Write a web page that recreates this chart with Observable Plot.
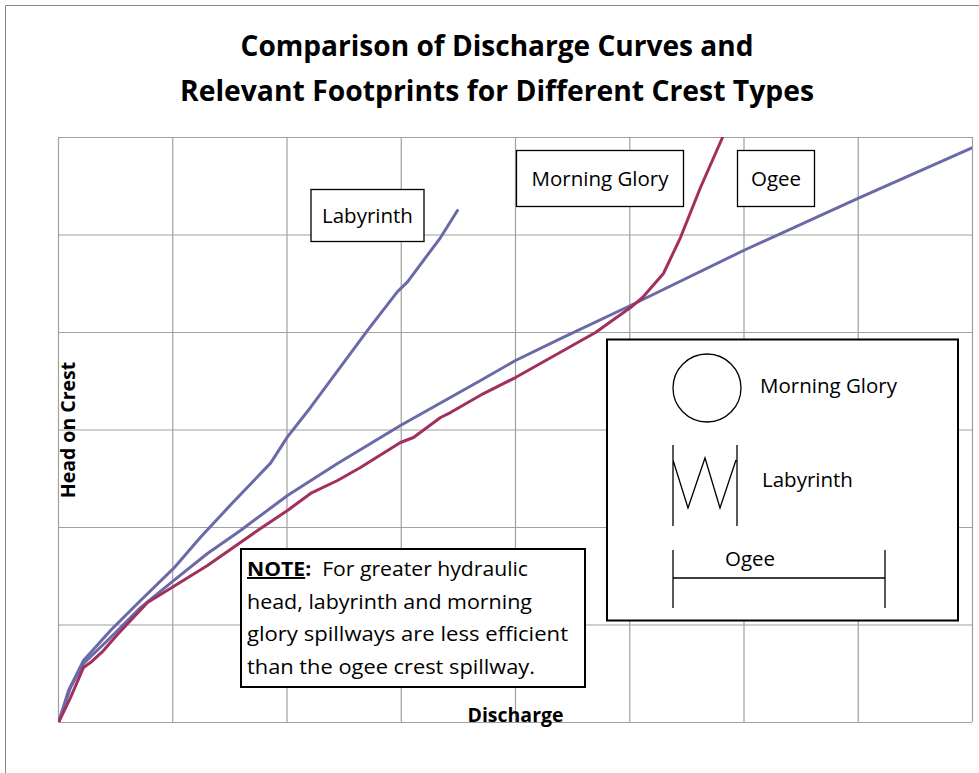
<!DOCTYPE html>
<html>
<head>
<meta charset="utf-8">
<script src="https://cdn.jsdelivr.net/npm/d3@7"></script>
<script src="https://cdn.jsdelivr.net/npm/@observablehq/plot@0.6"></script>
<style>
  html, body { margin: 0; padding: 0; background: #fff; }
  #wrap { position: relative; width: 979px; height: 773px; overflow: hidden; font-family: "Open Sans", Lato, sans-serif; }
  #wrap > svg { position: absolute; left: 0; top: 0; }
  #overlay { pointer-events: none; }
</style>
</head>
<body>
<div id="wrap"></div>
<script>
// ---- Data (grid units; the chart has no numeric tick labels) ----
const titleLines = ["Comparison of Discharge Curves and", "Relevant Footprints for Different Crest Types"];
const xLabel = "Discharge";
const yLabel = "Head on Crest";
const seriesNames = ["Ogee", "Labyrinth", "Morning Glory"];

const ogeeX = [0, 0.105, 0.219, 0.429, 0.718, 1.007, 1.304, 1.593, 2.004, 2.442, 2.993, 3.694, 4.0, 4.394, 5.007, 5.996, 6.993, 8.0];
const ogeeY = [0, 0.359, 0.605, 0.841, 1.179, 1.456, 1.733, 1.969, 2.328, 2.656, 3.046, 3.508, 3.713, 3.938, 4.277, 4.841, 5.374, 5.897];

const labX = [0, 0.088, 0.219, 0.455, 0.718, 1.007, 1.243, 1.505, 1.856, 2.004, 2.206, 2.530, 2.705, 2.967, 3.055, 3.344, 3.492];
const labY = [0, 0.328, 0.636, 0.944, 1.251, 1.580, 1.900, 2.230, 2.660, 2.930, 3.231, 3.744, 4.021, 4.420, 4.520, 4.974, 5.251];

const mgX = [0, 0.105, 0.219, 0.280, 0.394, 0.516, 0.779, 1.007, 1.304, 1.742, 2.004, 2.206, 2.442, 2.643, 2.993, 3.107, 3.344, 3.431, 3.720, 4.0, 4.700, 5.007, 5.112, 5.295, 5.444, 5.619, 5.812];
const mgY = [0, 0.256, 0.564, 0.615, 0.738, 0.903, 1.231, 1.395, 1.610, 1.969, 2.174, 2.349, 2.482, 2.615, 2.872, 2.923, 3.128, 3.179, 3.374, 3.538, 4.0, 4.256, 4.359, 4.605, 4.974, 5.487, 6.0];

const xTicks = [0, 1, 2, 3, 4, 5, 6, 7, 8];
const yTicks = [0, 1, 2, 3, 4, 5, 6];

const noteHead = "NOTE";
const noteLines = ["For greater hydraulic", "head, labyrinth and morning", "glory spillways are less efficient", "than the ogee crest spillway."];

// ---- Build table ----
const toRows = (name, xs, ys) => xs.map((x, i) => ({series: name, x, y: ys[i]}));
const rows = [
  ...toRows(seriesNames[0], ogeeX, ogeeY),
  ...toRows(seriesNames[1], labX, labY),
  ...toRows(seriesNames[2], mgX, mgY)
];

const BLUE = "#6a6aa8";
const MAGENTA = "#a2305f";
const GRID = "#a0a0a0";

const chart = Plot.plot({
  width: 979,
  height: 773,
  marginLeft: 58,
  marginRight: 7,
  marginTop: 137,
  marginBottom: 51,
  style: {background: "transparent", fontFamily: "'Open Sans', Lato, sans-serif", overflow: "visible"},
  x: {domain: [0, 8], axis: null},
  y: {domain: [0, 6], axis: null},
  color: {domain: seriesNames, range: [BLUE, BLUE, MAGENTA]},
  marks: [
    Plot.gridX(xTicks, {stroke: GRID, strokeOpacity: 1, strokeWidth: 1.2}),
    Plot.gridY(yTicks, {stroke: GRID, strokeOpacity: 1, strokeWidth: 1.2}),
    Plot.line(rows, {x: "x", y: "y", z: "series", stroke: "series", strokeWidth: 3, curve: "linear", clip: true}),
    Plot.text([yLabel], {frameAnchor: "left", rotate: -90, dx: 10, textAnchor: "middle", text: d => d, fontSize: 19.5, fontWeight: "bold", fill: "#000"}),
    Plot.text([xLabel], {frameAnchor: "bottom", lineAnchor: "bottom", dy: -1, text: d => d, fontSize: 19.5, fontWeight: "bold", fill: "#000"})
  ]
});
document.getElementById("wrap").appendChild(chart);

// ---- Overlay: title, callout boxes, footprint legend, note ----
const svg = d3.select("#wrap").append("svg").attr("id", "overlay")
  .attr("width", 979).attr("height", 773)
  .style("font-family", "'Open Sans', Lato, sans-serif");

// outer chart border (left & top visible)
svg.append("path").attr("d", "M5.5,773V5.5H979").attr("fill", "none").attr("stroke", "#888").attr("stroke-width", 1);

// title
const titleWidths = [513, 634];
svg.selectAll("text.title").data(titleLines).join("text").attr("class", "title")
  .attr("x", 497).attr("y", (d, i) => 56 + i * 45)
  .attr("text-anchor", "middle").attr("font-size", 28).attr("font-weight", "bold").attr("fill", "#000")
  .attr("textLength", (d, i) => titleWidths[i]).attr("lengthAdjust", "spacingAndGlyphs")
  .text(d => d);

// callout labels
const callouts = [
  {label: seriesNames[1], x: 311, y: 189.5, w: 113, h: 52, ty: 223},
  {label: seriesNames[2], x: 516.5, y: 150.5, w: 167, h: 56, ty: 186},
  {label: seriesNames[0], x: 737.5, y: 150.5, w: 77, h: 56, ty: 186}
];
for (const c of callouts) {
  svg.append("rect").attr("x", c.x).attr("y", c.y).attr("width", c.w).attr("height", c.h)
    .attr("fill", "#fff").attr("stroke", "#000").attr("stroke-width", 1.3);
  svg.append("text").attr("x", c.x + c.w / 2).attr("y", c.ty).attr("text-anchor", "middle")
    .attr("font-size", 20.5).attr("fill", "#000").text(c.label);
}

// footprint legend
const lg = svg.append("g");
lg.append("rect").attr("x", 607).attr("y", 339.5).attr("width", 351).attr("height", 281)
  .attr("fill", "#fff").attr("stroke", "#000").attr("stroke-width", 2);
lg.append("circle").attr("cx", 707).attr("cy", 388).attr("r", 34)
  .attr("fill", "none").attr("stroke", "#000").attr("stroke-width", 1.3);
lg.append("text").attr("x", 760).attr("y", 393).attr("font-size", 20.5).text(seriesNames[2]);
lg.append("path").attr("d", "M673,445V526M737,445V526M673,460L688,508L705,458L720,508L736,460")
  .attr("fill", "none").attr("stroke", "#000").attr("stroke-width", 1.3);
lg.append("text").attr("x", 762).attr("y", 487).attr("font-size", 20.5).text(seriesNames[1]);
lg.append("path").attr("d", "M673,550V608M885,550V608M673,578H885")
  .attr("fill", "none").attr("stroke", "#000").attr("stroke-width", 1.3);
lg.append("text").attr("x", 725).attr("y", 566).attr("font-size", 20.5).text(seriesNames[0]);

// note
const ng = svg.append("g");
ng.append("rect").attr("x", 241).attr("y", 549).attr("width", 344).attr("height", 138)
  .attr("fill", "#fff").attr("stroke", "#000").attr("stroke-width", 2);
const noteWidths = [281, 285, 321, 288];
const t0 = ng.append("text").attr("x", 247).attr("y", 576).attr("font-size", 19.5).attr("fill", "#000")
  .attr("textLength", noteWidths[0]).attr("lengthAdjust", "spacingAndGlyphs");
t0.append("tspan").attr("font-weight", "bold").attr("text-decoration", "underline").text(noteHead);
t0.append("tspan").attr("font-weight", "bold").text(":");
t0.append("tspan").text("\u00a0 " + noteLines[0]);
noteLines.slice(1).forEach((line, i) => {
  ng.append("text").attr("x", 247).attr("y", 608.5 + i * 32.5).attr("font-size", 19.5).attr("fill", "#000")
    .attr("textLength", noteWidths[i + 1]).attr("lengthAdjust", "spacingAndGlyphs").text(line);
});
</script>
</body>
</html>
